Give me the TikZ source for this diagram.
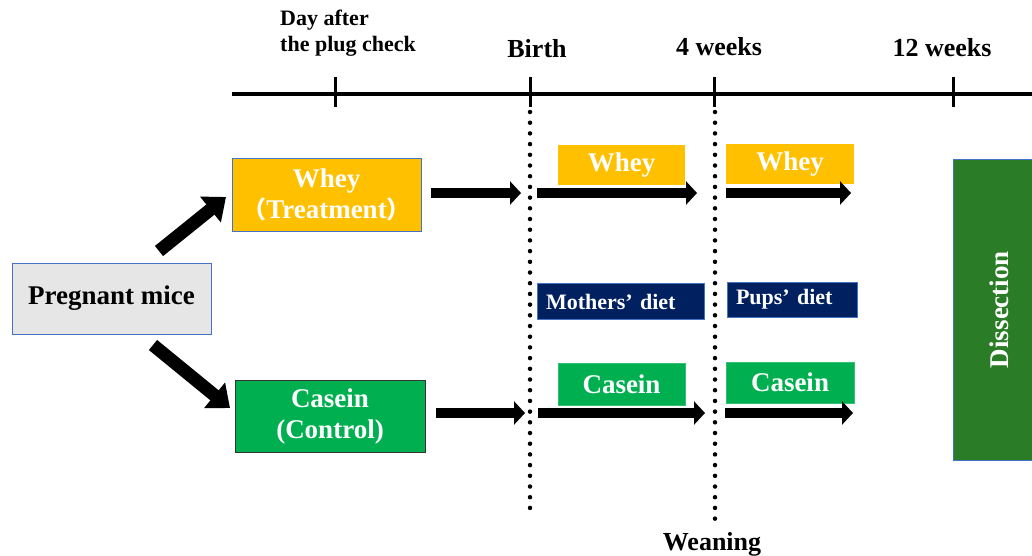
\documentclass[tikz,border=0pt]{standalone}
\usepackage{fontspec}
\setmainfont{Liberation Serif}
\newfontfamily\cjk{Noto Sans CJK JP}
\usetikzlibrary{arrows.meta}
\definecolor{orng}{HTML}{FFC000}
\definecolor{grn}{HTML}{00B050}
\definecolor{navy}{HTML}{002060}
\definecolor{lgrey}{HTML}{E7E6E6}
\definecolor{bblue}{HTML}{4472C4}
\definecolor{dgrn}{RGB}{43,124,38}
\begin{document}
\begin{tikzpicture}[x=1pt,y=-1pt,
  box/.style={inner sep=0pt, align=center, font=\bfseries\fontsize{27}{31}\selectfont},
  diet/.style={inner xsep=9pt, inner ysep=0pt, align=left, font=\bfseries\fontsize{22}{26}\selectfont, text=white, fill=navy, draw=bblue, line width=0.8pt},
  lbl/.style={inner sep=0pt, font=\bfseries\fontsize{26}{31}\selectfont},
  blk/.style={line width=10pt, -{Triangle[width=23pt,length=11pt]}},
  blkd/.style={line width=13pt, -{Triangle[width=32pt,length=20pt]}},
  dots/.style={line width=4.5pt, line cap=round, dash pattern=on 0pt off 10.7pt},
  tick/.style={line width=3pt}]
\clip (0,0) rectangle (1032,555);
\fill[white] (0,0) rectangle (1032,555);

% timeline
\draw[line width=3.2pt] (232,94) -- (1032,94);
\foreach \x/\n in {335/t1,530/t2,714/t3,953/t4}{
  \coordinate (\n a) at (\x,77);
  \coordinate (\n b) at (\x,107);
  \draw[tick] (\n a) -- (\n b);
}
\node[lbl, align=left, anchor=north west, font=\bfseries\fontsize{22}{26}\selectfont] (lday) at (280,10) {Day after\\the plug check};
\node[lbl, anchor=base] (lbirth) at (537,57) {Birth};
\node[lbl, anchor=base] (l4w) at (719,55) {4 weeks};
\node[lbl, anchor=base] (l12w) at (942,56) {12 weeks};

% dotted lines
\coordinate (d1a) at (530,112); \coordinate (d1b) at (530,518);
\coordinate (d2a) at (715,112); \coordinate (d2b) at (715,520);
\draw[dots] (d1a) -- (d1b);
\draw[dots] (d2a) -- (d2b);
\node[lbl, anchor=base] (wean) at (712,550) {Weaning};

% main boxes
\node[box, fill=lgrey, draw=bblue, line width=1pt, minimum width=199pt, minimum height=71pt] (preg) at (111.5,298.5) {Pregnant mice};
\node[box, fill=orng, draw=bblue, line width=1pt, text=white, minimum width=189pt, minimum height=73pt] (whey) at (326.5,194.5) {Whey\\{\cjk\bfseries\fontsize{24}{31}\selectfont （}Treatment{\cjk\bfseries\fontsize{24}{31}\selectfont ）}};
\node[box, fill=grn, draw=black!80, line width=1pt, text=white, minimum width=190pt, minimum height=72pt] (casein) at (330,416) {Casein\\(Control)};

% small boxes
\node[box, fill=orng, text=white, minimum width=127pt, minimum height=40pt] (w1) at (621.5,165) {Whey};
\node[box, fill=orng, text=white, minimum width=128pt, minimum height=40pt] (w2) at (790,164) {Whey};
\node[diet, text width=149pt, minimum height=36pt] (md) at (620.5,301.5) {Mothers’ diet};
\node[diet, text width=112pt, minimum height=35pt] (pd) at (792,299.5) {Pups’ diet};
\node[box, fill=grn, draw=grn!80!white, text=white, minimum width=127pt, minimum height=42pt] (c1) at (621.5,384) {Casein};
\node[box, fill=grn, draw=grn!80!white, text=white, minimum width=128pt, minimum height=41pt] (c2) at (790,382.5) {Casein};

% dissection
\node[box, fill=dgrn, draw=bblue, line width=1pt, text=white, minimum width=92pt, minimum height=301pt] (dis) at (999,309.5) {};
\node[box, text=white, rotate=90] (dist) at (dis.center) {Dissection};

% diagonal arrows
\coordinate (ua) at (159,251); \coordinate (ub) at (226,197);
\coordinate (da) at (153,345); \coordinate (db) at (230,408);
\draw[blkd] (ua) -- (ub);
\draw[blkd] (da) -- (db);

% horizontal arrows
\coordinate (r1a) at (431,193); \coordinate (r1b) at (521,193);
\coordinate (r1c) at (537,193); \coordinate (r1d) at (697,193);
\coordinate (r1e) at (726,193); \coordinate (r1f) at (851,193);
\coordinate (r2a) at (436,413); \coordinate (r2b) at (525,413);
\coordinate (r2c) at (538,413); \coordinate (r2d) at (705,413);
\coordinate (r2e) at (725,413); \coordinate (r2f) at (853,413);
\draw[blk] (r1a) -- (r1b);
\draw[blk] (r1c) -- (r1d);
\draw[blk] (r1e) -- (r1f);
\draw[blk] (r2a) -- (r2b);
\draw[blk] (r2c) -- (r2d);
\draw[blk] (r2e) -- (r2f);
\end{tikzpicture}
\end{document}
